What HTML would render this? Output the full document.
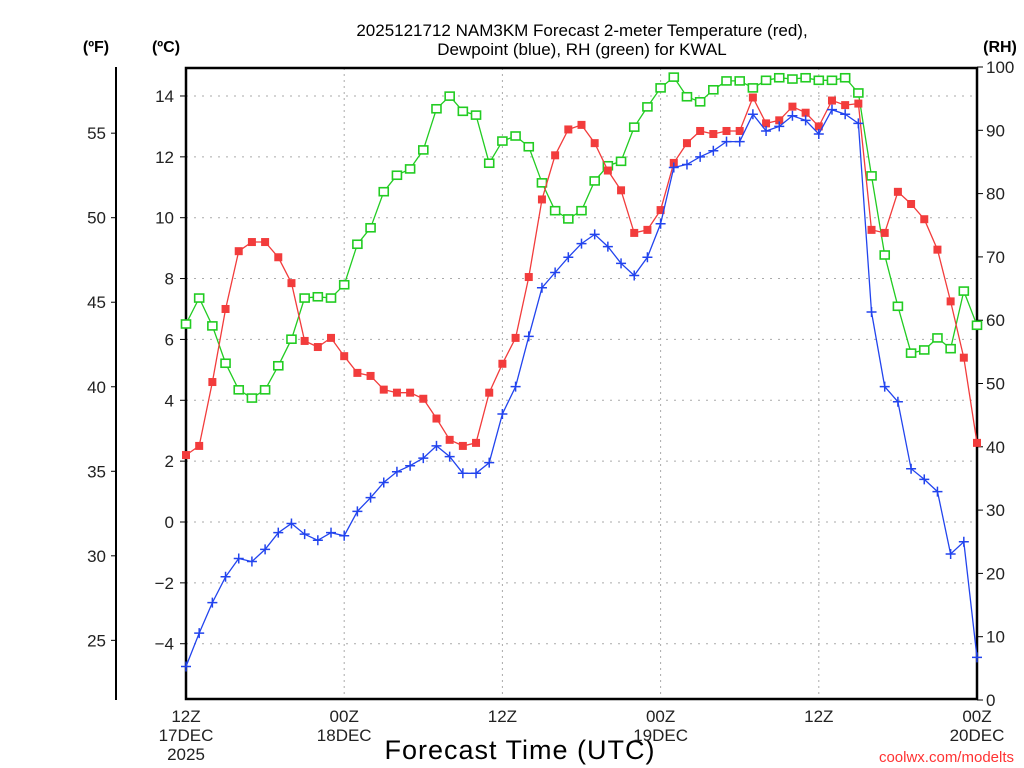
<!DOCTYPE html>
<html><head><meta charset="utf-8"><style>
html,body{margin:0;padding:0;background:#fff;}
svg{display:block;font-family:"Liberation Sans","DejaVu Sans",sans-serif;}
</style></head><body>
<svg id="chart" width="1024" height="768" viewBox="0 0 1024 768" xmlns="http://www.w3.org/2000/svg">
<text x="582" y="36" text-anchor="middle" font-size="17" fill="#000">2025121712 NAM3KM Forecast 2-meter Temperature (red),</text>
<text x="582" y="55" text-anchor="middle" font-size="17" fill="#000">Dewpoint (blue), RH (green) for KWAL</text>
<text x="96" y="52" text-anchor="middle" font-size="16" font-weight="bold">(ºF)</text>
<text x="166" y="52" text-anchor="middle" font-size="16" font-weight="bold">(ºC)</text>
<text x="1000" y="52" text-anchor="middle" font-size="16" font-weight="bold">(RH)</text>
<text x="520" y="759" text-anchor="middle" font-size="27" letter-spacing="1">Forecast Time (UTC)</text>
<text x="1014" y="762" text-anchor="end" font-size="15" fill="#ff3333">coolwx.com/modelts</text>
<g id="grid"></g><g id="axes"></g><g id="series"></g>
</svg>
<script>
const hours = [0,1,2,3,4,5,6,7,8,9,10,11,12,13,14,15,16,17,18,19,20,21,22,23,24,25,26,27,28,29,30,31,32,33,34,35,36,37,38,39,40,41,42,43,44,45,46,47,48,49,50,51,52,53,54,55,56,57,58,59,60];
const tempC = [2.2,2.5,4.6,7.0,8.9,9.2,9.2,8.7,7.85,5.95,5.75,6.05,5.45,4.9,4.8,4.35,4.25,4.25,4.05,3.4,2.7,2.5,2.6,4.25,5.2,6.05,8.05,10.6,12.05,12.9,13.05,12.45,11.55,10.9,9.5,9.6,10.25,11.8,12.45,12.85,12.75,12.85,12.85,13.95,13.1,13.2,13.65,13.45,13.0,13.85,13.7,13.75,9.6,9.5,10.85,10.45,9.95,8.95,7.25,5.4,2.6];
const dewC = [-4.75,-3.65,-2.65,-1.8,-1.2,-1.3,-0.9,-0.35,-0.05,-0.4,-0.6,-0.35,-0.45,0.35,0.8,1.3,1.65,1.85,2.1,2.5,2.15,1.6,1.6,1.95,3.55,4.45,6.1,7.7,8.2,8.7,9.15,9.45,9.05,8.5,8.1,8.7,9.8,11.65,11.75,12.0,12.2,12.5,12.5,13.4,12.85,13.0,13.35,13.2,12.75,13.55,13.4,13.1,6.9,4.45,3.95,1.75,1.4,1.0,-1.05,-0.65,-4.45];
const rh = [59.4,63.5,59.1,53.2,49,47.7,49,52.8,57,63.5,63.7,63.5,65.6,72,74.6,80.3,82.9,83.9,86.9,93.4,95.4,93,92.4,84.8,88.3,89.1,87.4,81.7,77.3,76,77.3,82,84.4,85.1,90.5,93.7,96.7,98.4,95.3,94.5,96.4,97.8,97.8,96.7,97.9,98.3,98.1,98.3,97.9,97.9,98.3,95.9,82.8,70.3,62.2,54.8,55.3,57.2,55.5,64.6,59.2];
const cTicks = [-4,-2,0,2,4,6,8,10,12,14];
const fTicks = [25,30,35,40,45,50,55];
const rhTicks = [0,10,20,30,40,50,60,70,80,90,100];
const xTickHours = [0,12,24,36,48,60];
const xTickLabels = [["12Z","17DEC","2025"],["00Z","18DEC"],["12Z"],["00Z","19DEC"],["12Z"],["00Z","20DEC"]];

const L=186,R=977,T=68,B=699;
const NS="http://www.w3.org/2000/svg";
const X=h=>L+(R-L)*h/60;
const YC=c=>522-30.43*c;
const YF=f=>YC((f-32)/1.8);
const YR=r=>700-6.33*r;
function mk(tag,attrs,parent){const e=document.createElementNS(NS,tag);for(const k in attrs)e.setAttribute(k,attrs[k]);parent.appendChild(e);return e;}
const grid=document.getElementById('grid'),axes=document.getElementById('axes'),ser=document.getElementById('series');

cTicks.forEach(c=>{const y=YC(c);
 const g=mk('line',{x1:L,x2:R,y1:y,y2:y,stroke:'#aaa','stroke-width':1,'stroke-dasharray':'2,6'},grid);
 
 
 const t=mk('line',{x1:L-6,x2:L,y1:y,y2:y,stroke:'#000','stroke-width':1},axes);
 
 
 const tx=mk('text',{x:L-12,y:y+6,'text-anchor':'end','font-size':17,fill:'#222'},axes);
 tx.textContent=(c<0?'\u2212'+(-c):c);
 
 
});
xTickHours.forEach((h,i)=>{const x=X(h);
 if(h>0&&h<60){const g=mk('line',{x1:x,x2:x,y1:T,y2:B,stroke:'#aaa','stroke-width':1,'stroke-dasharray':'2,4'},grid);
 
 }
 xTickLabels[i].forEach((s,j)=>{const tx=mk('text',{x:x,y:722+j*19,'text-anchor':'middle','font-size':17,fill:'#222'},axes);
 tx.textContent=s;
 
 });
});
// F axis
const fa=mk('line',{x1:116,x2:116,y1:67,y2:700,stroke:'#000','stroke-width':2},axes);


fTicks.forEach(f=>{const y=YF(f);
 const t=mk('line',{x1:111,x2:116,y1:y,y2:y,stroke:'#000'},axes);
 
 
 const tx=mk('text',{x:106,y:y+6,'text-anchor':'end','font-size':17,fill:'#222'},axes);
 tx.textContent=f;
 
 
});
rhTicks.forEach(r=>{const y=YR(r);
 const t=mk('line',{x1:R,x2:R+6,y1:y,y2:y,stroke:'#000'},axes);
 
 
 const tx=mk('text',{x:986,y:y+6,'text-anchor':'start','font-size':17,fill:'#222'},axes);
 tx.textContent=r;
 
 
});
const fr=mk('rect',{x:L,y:T,width:R-L,height:B-T,fill:'none',stroke:'#000','stroke-width':2.5},axes);



function series(vals,yf,color,name,marker){
 const pts=vals.map((v,i)=>X(hours[i]).toFixed(1)+','+yf(v).toFixed(1)).join(' ');
 const pl=mk('polyline',{points:pts,fill:'none',stroke:color,'stroke-width':1.3},ser);
 
 
 vals.forEach((v,i)=>{const x=X(hours[i]),y=yf(v);let m;
  if(marker==='fill'){m=mk('rect',{x:x-4,y:y-4,width:8,height:8,fill:color},ser);}
  else if(marker==='open'){m=mk('rect',{x:x-4.5,y:y-4,width:9,height:8,fill:'#fff',stroke:color,'stroke-width':1.6},ser);}
  else{m=mk('path',{d:`M${x-5},${y}H${x+5}M${x},${y-5}V${y+5}`,stroke:color,'stroke-width':1.5},ser);}
  
  
 });
}
series(rh,YR,'#22cc22','rh','open');
series(tempC,YC,'#f23c3c','temperature','fill');
series(dewC,YC,'#2244ee','dewpoint','plus');
</script>
</body></html>
